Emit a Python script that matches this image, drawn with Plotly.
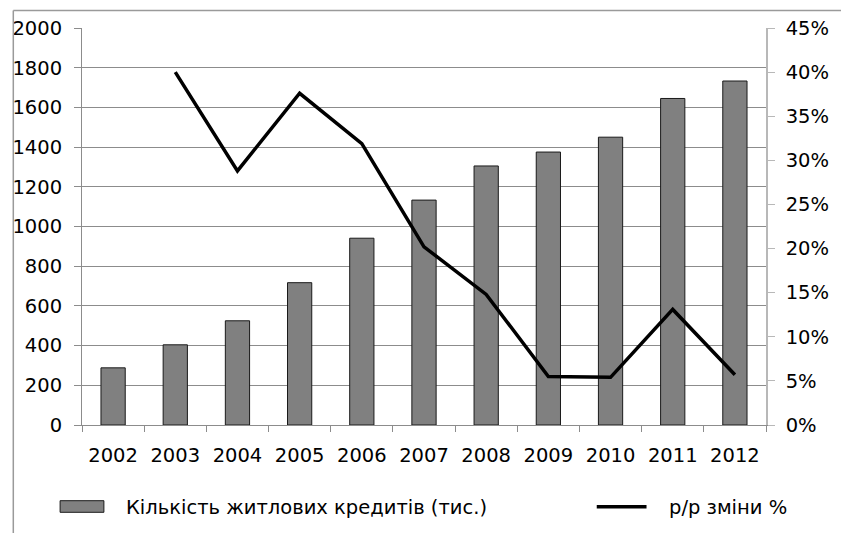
import plotly.graph_objects as go

# Data
years = ["2002", "2003", "2004", "2005", "2006", "2007", "2008", "2009", "2010", "2011", "2012"]
loans_thousands = [288, 404, 525, 717, 941, 1133, 1305, 1375, 1450, 1645, 1733]
yoy_change = [None, 0.400, 0.288, 0.376, 0.319, 0.202, 0.148, 0.055, 0.054, 0.131, 0.057]

bar_name = "Кількість житлових кредитів (тис.)"
line_name = "р/р зміни %"

W, H = 841, 533
L, R, T, B = 80, 74, 28, 108
PW, PH = W - L - R, H - T - B

FONT = dict(family="DejaVu Sans, Arial, sans-serif", size=19.5, color="#000000")
GRID = "#8c8c8c"


def px(x):
    return (x - L) / PW


def py(y):
    return (H - B - y) / PH


fig = go.Figure()
fig.add_trace(go.Bar(
    x=years, y=loans_thousands, name=bar_name,
    marker=dict(color="#808080", line=dict(color="#1a1a1a", width=1)),
    showlegend=False, yaxis="y",
))
fig.add_trace(go.Scatter(
    x=years, y=yoy_change, name=line_name, mode="lines",
    line=dict(color="#000000", width=3.5), connectgaps=False,
    showlegend=False, yaxis="y2",
))

shapes = [
    # outer chart frame (left and top edges)
    dict(type="line", xref="paper", yref="paper", x0=px(11), x1=px(W + 5), y0=py(10.5), y1=py(10.5),
         line=dict(color="#9a9a9a", width=1.5)),
    dict(type="line", xref="paper", yref="paper", x0=px(11), x1=px(11), y0=py(10.5), y1=py(H + 5),
         line=dict(color="#9a9a9a", width=1.5)),
    # legend symbols
    dict(type="rect", xref="paper", yref="paper", x0=px(58), x1=px(102), y0=py(512.3), y1=py(500.7),
         fillcolor="#808080", line=dict(color="#1a1a1a", width=1)),
    dict(type="line", xref="paper", yref="paper", x0=px(597), x1=px(647), y0=py(506.7), y1=py(506.7),
         line=dict(color="#000000", width=3.5)),
]

annotations = [
    dict(text=bar_name, xref="paper", yref="paper", x=px(122), y=py(507), xanchor="left", yanchor="middle",
         showarrow=False, font=FONT),
    dict(text=line_name, xref="paper", yref="paper", x=px(668), y=py(507), xanchor="left", yanchor="middle",
         showarrow=False, font=FONT),
]

fig.update_layout(
    width=W, height=H,
    margin=dict(l=L, r=R, t=T, b=B),
    paper_bgcolor="white", plot_bgcolor="white",
    font=FONT,
    bargap=0.61,
    showlegend=False,
    shapes=shapes,
    annotations=annotations,
    xaxis=dict(
        type="category", tickson="boundaries", ticks="outside", ticklen=6, tickcolor=GRID,
        showline=True, linecolor=GRID, linewidth=1, showgrid=False,
        tickfont=FONT, ticklabelstandoff=13,
    ),
    yaxis=dict(
        range=[0, 2000], dtick=200, tick0=0, ticks="outside", ticklen=7, tickcolor=GRID,
        showline=True, linecolor=GRID, linewidth=1,
        showgrid=True, gridcolor=GRID, gridwidth=1, zeroline=False,
        tickfont=FONT, ticklabelstandoff=8,
    ),
    yaxis2=dict(
        range=[0, 0.45], dtick=0.05, tick0=0, tickformat=".0%", overlaying="y", side="right",
        ticks="outside", ticklen=7, tickcolor="#b8b8b8",
        showline=True, linecolor="#b8b8b8", linewidth=1.5,
        showgrid=False, zeroline=False,
        tickfont=FONT, ticklabelstandoff=7,
    ),
)

fig.write_html("out.html")
